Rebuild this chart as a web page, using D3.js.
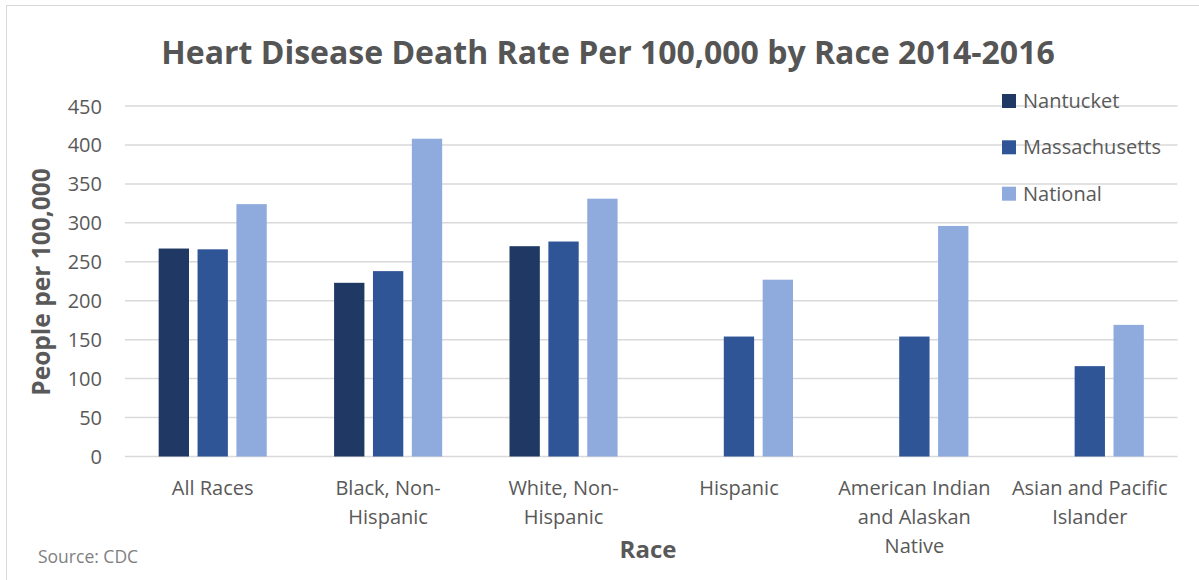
<!DOCTYPE html>
<html>
<head>
<meta charset="utf-8">
<script src="https://cdn.jsdelivr.net/npm/d3@7"></script>
<style>
  html, body { margin: 0; padding: 0; background: #ffffff; }
  svg { display: block; font-family: "Open Sans", "DejaVu Sans", sans-serif; }
</style>
</head>
<body>
<svg id="chart" width="1199" height="580"></svg>
<script>
// ---- data ----
const categories = ["All Races", "Black, Non-Hispanic", "White, Non-Hispanic", "Hispanic", "American Indian and Alaskan Native", "Asian and Pacific Islander"];
const categoryLines = [["All Races"], ["Black, Non-", "Hispanic"], ["White, Non-", "Hispanic"], ["Hispanic"], ["American Indian", "and Alaskan", "Native"], ["Asian and Pacific", "Islander"]];
const seriesNames = ["Nantucket", "Massachusetts", "National"];
const nantucket = [267, 223, 270, null, null, null];
const massachusetts = [266, 238, 276, 154, 154, 116];
const national = [324, 408, 331, 227, 296, 169];
const yTicks = [0, 50, 100, 150, 200, 250, 300, 350, 400, 450];
const colors = ["#203864", "#2f5597", "#8faadc"];
const title = "Heart Disease Death Rate Per 100,000 by Race 2014-2016";
const yTitle = "People per 100,000";
const xTitle = "Race";
const source = "Source: CDC";

const seriesValues = [nantucket, massachusetts, national];
const textColor = "#595959";

const svg = d3.select("#chart");

// chart border
svg.append("rect")
  .attr("x", 6.5).attr("y", 5.5)
  .attr("width", 1250).attr("height", 650)
  .attr("fill", "none").attr("stroke", "#d9d9d9").attr("stroke-width", 1);

const plot = { left: 125, right: 1177.5, top: 106, bottom: 456.5 };

const x0 = d3.scaleBand().domain(categories).range([plot.left, plot.right]).padding(0);
const x1 = d3.scaleBand().domain(seriesNames).range([0, x0.bandwidth()])
  .paddingInner(0.22).paddingOuter(0.866);
const y = d3.scaleLinear().domain([0, 450]).range([plot.bottom, plot.top]);

// gridlines
svg.append("g").selectAll("line").data(yTicks).join("line")
  .attr("x1", plot.left).attr("x2", plot.right)
  .attr("y1", d => y(d)).attr("y2", d => y(d))
  .attr("stroke", "#d9d9d9").attr("stroke-width", 1.5);

// y axis labels
const yAxis = d3.axisLeft(y).tickValues(yTicks).tickSize(0).tickPadding(0);
const yg = svg.append("g").attr("transform", `translate(${plot.left - 23},0)`).call(yAxis);
yg.select(".domain").remove();
yg.selectAll("text").attr("fill", textColor).attr("font-size", 20)
  .attr("font-family", "'Open Sans', sans-serif").attr("dy", "0.35em");

// bars
const groups = svg.append("g").selectAll("g").data(categories).join("g")
  .attr("transform", d => `translate(${x0(d)},0)`);
groups.selectAll("rect")
  .data((c, i) => seriesNames.map((s, j) => ({ s, j, v: seriesValues[j][i] })).filter(d => d.v != null))
  .join("rect")
  .attr("x", d => x1(d.s))
  .attr("width", x1.bandwidth())
  .attr("y", d => y(d.v))
  .attr("height", d => y(0) - y(d.v))
  .attr("fill", d => colors[d.j]);

// x axis labels
const xl = svg.append("g").selectAll("text").data(categories).join("text")
  .attr("x", d => x0(d) + x0.bandwidth() / 2)
  .attr("y", 495)
  .attr("text-anchor", "middle")
  .attr("fill", textColor).attr("font-size", 20);
xl.selectAll("tspan").data((d, i) => categoryLines[i]).join("tspan")
  .attr("x", function () { return d3.select(this.parentNode).attr("x"); })
  .attr("dy", (d, i) => i === 0 ? 0 : 29)
  .text(d => d);

// title
svg.append("text").attr("x", 608).attr("y", 64).attr("text-anchor", "middle")
  .attr("font-size", 32).attr("font-weight", "bold").attr("fill", "#555555").text(title);

// y title
svg.append("text").attr("transform", "translate(50,282) rotate(-90)")
  .attr("text-anchor", "middle").attr("font-size", 24.5).attr("font-weight", "bold")
  .attr("fill", textColor).text(yTitle);

// x title
svg.append("text").attr("x", 648).attr("y", 558).attr("text-anchor", "middle")
  .attr("font-size", 24).attr("font-weight", "bold").attr("fill", textColor).text(xTitle);

// source
svg.append("text").attr("x", 38).attr("y", 563)
  .attr("font-size", 17.5).attr("fill", "#7f7f7f").text(source);

// legend
const legendY = [101, 147.3, 193.7];
const lg = svg.append("g").selectAll("g").data(seriesNames).join("g")
  .attr("transform", (d, i) => `translate(1002,${legendY[i]})`);
lg.append("rect").attr("x", 0).attr("y", -7).attr("width", 14).attr("height", 14)
  .attr("fill", (d, i) => colors[i]);
lg.append("text").attr("x", 21).attr("y", 0).attr("dy", "0.35em")
  .attr("font-size", 20).attr("fill", textColor).text(d => d);
</script>
</body>
</html>
